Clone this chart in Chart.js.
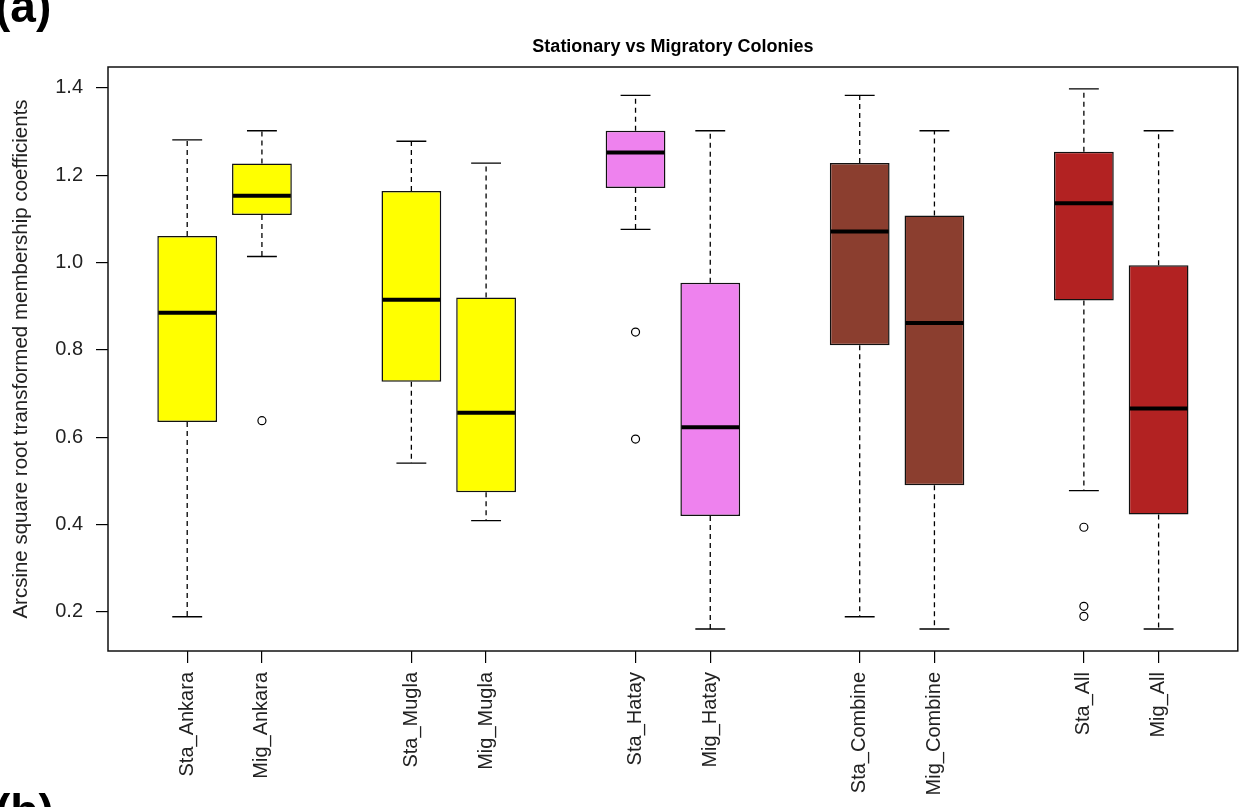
<!DOCTYPE html>
<html>
<head>
<meta charset="utf-8">
<script src="https://cdn.jsdelivr.net/npm/chart.js@4.4.1/dist/chart.umd.min.js"></script>
<style>
  html, body { margin: 0; padding: 0; background: #fff; }
  #wrap { width: 1243px; height: 807px; }
</style>
</head>
<body>
<div id="wrap"><canvas id="boxChart" width="1243" height="807"></canvas></div>
<script>
// box positions follow R's boxplot(at = ...) with gaps between pairs
const categories = ['Sta_Ankara', 'Mig_Ankara', 'Sta_Mugla', 'Mig_Mugla', 'Sta_Hatay',
                    'Mig_Hatay', 'Sta_Combine', 'Mig_Combine', 'Sta_All', 'Mig_All'];
const positions = [1, 2, 4, 5, 7, 8, 10, 11, 13, 14];

// five-number summaries
const lowerWhisker = [0.189, 1.014, 0.541, 0.409, 1.076, 0.161, 0.189, 0.161, 0.478, 0.161];
const q1           = [0.635, 1.109, 0.727, 0.474, 1.171, 0.420, 0.811, 0.490, 0.913, 0.423];
const median       = [0.885, 1.153, 0.915, 0.656, 1.252, 0.623, 1.071, 0.862, 1.136, 0.666];
const q3           = [1.061, 1.227, 1.164, 0.920, 1.302, 0.954, 1.228, 1.108, 1.254, 0.994];
const upperWhisker = [1.281, 1.302, 1.278, 1.228, 1.383, 1.302, 1.383, 1.302, 1.398, 1.302];

// outliers (x = box position)
const outlierX = [2, 7, 7, 13, 13, 13];
const outlierY = [0.638, 0.841, 0.596, 0.394, 0.213, 0.190];

const yTicks = [0.2, 0.4, 0.6, 0.8, 1.0, 1.2, 1.4];

const boxColors = ['#FFFF00', '#FFFF00', '#FFFF00', '#FFFF00', '#EE82EE',
                   '#EE82EE', '#8B3E2F', '#8B3E2F', '#B22222', '#B22222'];

const FONT = "'Liberation Sans', Arial, sans-serif";
Chart.defaults.font.family = FONT;
Chart.defaults.color = '#222';

// whiskers, caps, medians, frame and titles
const boxplotExtras = {
    id: 'boxplotExtras',
    beforeDatasetsDraw(chart) {
        const { ctx, scales: { x, y } } = chart;
        ctx.save();
        ctx.strokeStyle = '#000';
        ctx.lineWidth = 1.3;
        positions.forEach((p, i) => {
            const px = x.getPixelForValue(p);
            ctx.setLineDash([5, 4]);
            ctx.beginPath();
            ctx.moveTo(px, y.getPixelForValue(q3[i]));
            ctx.lineTo(px, y.getPixelForValue(upperWhisker[i]));
            ctx.moveTo(px, y.getPixelForValue(q1[i]));
            ctx.lineTo(px, y.getPixelForValue(lowerWhisker[i]));
            ctx.stroke();
            ctx.setLineDash([]);
            const l = x.getPixelForValue(p - 0.2), r = x.getPixelForValue(p + 0.2);
            ctx.beginPath();
            [upperWhisker[i], lowerWhisker[i]].forEach(v => {
                const py = y.getPixelForValue(v);
                ctx.moveTo(l, py);
                ctx.lineTo(r, py);
            });
            ctx.stroke();
        });
        ctx.restore();
    },
    afterDatasetsDraw(chart) {
        const { ctx, scales: { x, y } } = chart;
        ctx.save();
        ctx.strokeStyle = '#000';
        ctx.lineWidth = 4;
        positions.forEach((p, i) => {
            const py = y.getPixelForValue(median[i]);
            ctx.beginPath();
            ctx.moveTo(x.getPixelForValue(p - 0.4) + 1, py);
            ctx.lineTo(x.getPixelForValue(p + 0.4) - 1, py);
            ctx.stroke();
        });
        ctx.restore();
    },
    afterDraw(chart) {
        const { ctx, chartArea: a } = chart;
        ctx.save();
        ctx.strokeStyle = '#111';
        ctx.lineWidth = 1.5;
        ctx.strokeRect(a.left, a.top, a.right - a.left, a.bottom - a.top);

        ctx.fillStyle = '#000';
        ctx.textAlign = 'center';
        ctx.textBaseline = 'middle';
        ctx.font = 'bold 18px ' + FONT;
        ctx.fillText('Stationary vs Migratory Colonies', (a.left + a.right) / 2, 47);

        ctx.textAlign = 'left';
        ctx.textBaseline = 'alphabetic';
        ctx.font = 'bold 46px ' + FONT;
        ctx.fillText('(a)', -5, 22);
        ctx.fillText('(b)', -5, 827);
        ctx.restore();
    }
};

new Chart(document.getElementById('boxChart'), {
    type: 'bar',
    data: {
        datasets: [{
            label: 'boxes',
            data: positions.map((p, i) => ({ x: p, y: [q1[i], q3[i]] })),
            backgroundColor: boxColors,
            borderColor: '#111',
            borderWidth: 1.5,
            borderSkipped: false,
            barPercentage: 1.0,
            categoryPercentage: 0.8
        }, {
            type: 'scatter',
            label: 'outliers',
            data: outlierX.map((p, i) => ({ x: p, y: outlierY[i] })),
            pointStyle: 'circle',
            pointRadius: 4,
            borderColor: '#000',
            backgroundColor: 'rgba(0,0,0,0)',
            borderWidth: 1.2
        }]
    },
    options: {
        responsive: false,
        animation: false,
        layout: { padding: { top: 67, right: 4, left: 0, bottom: 0 } },
        plugins: { legend: { display: false }, tooltip: { enabled: false } },
        scales: {
            x: {
                type: 'linear',
                min: -0.06,
                max: 15.06,
                offset: false,
                grid: { offset: false, drawOnChartArea: false, drawTicks: true, tickLength: 12, tickColor: '#000', lineWidth: 1.2 },
                border: { display: false },
                afterBuildTicks: (scale) => { scale.ticks = positions.map(v => ({ value: v })); },
                afterFit: (scale) => { scale.height = 156; },
                ticks: {
                    autoSkip: false,
                    minRotation: 90,
                    maxRotation: 90,
                    padding: 9,
                    font: { size: 20 },
                    callback: (value) => categories[positions.indexOf(value)]
                }
            },
            y: {
                min: 0.1106,
                max: 1.448,
                grid: { drawOnChartArea: false, drawTicks: true, tickLength: 12, tickColor: '#000', lineWidth: 1.2 },
                border: { display: false },
                afterBuildTicks: (scale) => { scale.ticks = yTicks.map(v => ({ value: v })); },
                afterFit: (scale) => { scale.width = 108; },
                ticks: {
                    padding: 13,
                    font: { size: 20 },
                    callback: (value) => value.toFixed(1)
                },
                title: {
                    display: true,
                    text: 'Arcsine square root transformed membership coefficients',
                    font: { size: 20.5 },
                    padding: { top: 9, bottom: 0 }
                }
            }
        }
    },
    plugins: [boxplotExtras]
});
</script>
</body>
</html>
